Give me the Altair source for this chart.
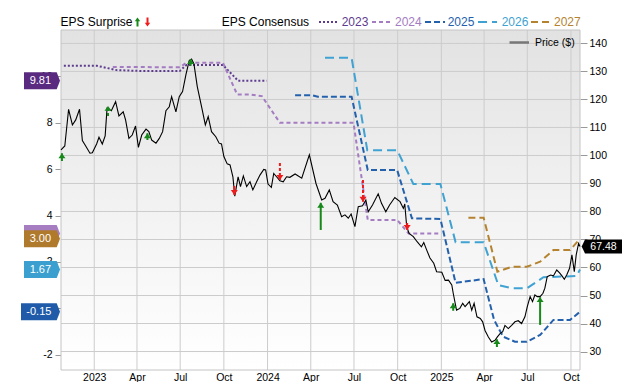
import altair as alt
import pandas as pd

FONT = "Liberation Sans"

# ---------------- data ----------------
price_dates = [
    "2022-10-23", "2022-10-31", "2022-11-08", "2022-11-16", "2022-11-23", "2022-12-01", "2022-12-07", "2022-12-14", "2022-12-23", "2022-12-28",
    "2023-01-06", "2023-01-11", "2023-01-18", "2023-01-24", "2023-01-28", "2023-02-06", "2023-02-15", "2023-02-22", "2023-03-03", "2023-03-08",
    "2023-03-15", "2023-03-22", "2023-03-29", "2023-04-04", "2023-04-11", "2023-04-20", "2023-04-26", "2023-05-02", "2023-05-11", "2023-05-18",
    "2023-05-25", "2023-06-01", "2023-06-08", "2023-06-13", "2023-06-22", "2023-06-29", "2023-07-06", "2023-07-13", "2023-07-20", "2023-07-25",
    "2023-07-30", "2023-08-06", "2023-08-15", "2023-08-23", "2023-08-29", "2023-09-05", "2023-09-14", "2023-09-21", "2023-09-26", "2023-10-01",
    "2023-10-08", "2023-10-14", "2023-10-20", "2023-10-24", "2023-10-31", "2023-11-05", "2023-11-11", "2023-11-18", "2023-11-25", "2023-12-01",
    "2023-12-09", "2023-12-16", "2023-12-24", "2023-12-28", "2024-01-02", "2024-01-09", "2024-01-14", "2024-01-20", "2024-01-27", "2024-02-03",
    "2024-02-10", "2024-02-17", "2024-02-28", "2024-03-13", "2024-03-29", "2024-04-12", "2024-04-24", "2024-05-01", "2024-05-10", "2024-05-18",
    "2024-05-27", "2024-06-05", "2024-06-12", "2024-06-19", "2024-06-25", "2024-07-03", "2024-07-10", "2024-07-19", "2024-07-26", "2024-07-31",
    "2024-08-09", "2024-08-21", "2024-08-28", "2024-09-06", "2024-09-14", "2024-09-25", "2024-10-06", "2024-10-13", "2024-10-16", "2024-10-20",
    "2024-10-25", "2024-11-03", "2024-11-11", "2024-11-20", "2024-11-25", "2024-12-01", "2024-12-08", "2024-12-16", "2024-12-22", "2025-01-02",
    "2025-01-09", "2025-01-16", "2025-01-23", "2025-01-26", "2025-02-02", "2025-02-09", "2025-02-15", "2025-02-20", "2025-02-25", "2025-03-01",
    "2025-03-06", "2025-03-11", "2025-03-17", "2025-03-24", "2025-03-29", "2025-04-03", "2025-04-10", "2025-04-17", "2025-04-24", "2025-04-29",
    "2025-05-05", "2025-05-10", "2025-05-15", "2025-05-22", "2025-05-29", "2025-06-05", "2025-06-12", "2025-06-19", "2025-06-26", "2025-07-01",
    "2025-07-07", "2025-07-12", "2025-07-17", "2025-07-22", "2025-07-28", "2025-08-03", "2025-08-07", "2025-08-12", "2025-08-19", "2025-08-25",
    "2025-09-01", "2025-09-07", "2025-09-12", "2025-09-17", "2025-09-22", "2025-09-28", "2025-10-03", "2025-10-08", "2025-10-12", "2025-10-17",
    "2025-10-20",
]
price_values = [
    102.0, 103.4, 116.5, 110.9, 112.7, 116.5, 105.3, 103.4, 100.8, 101.0,
    104.1, 106.5, 104.1, 107.0, 116.9, 116.0, 119.2, 114.1, 115.6, 112.7,
    106.1, 107.3, 110.5, 102.9, 107.3, 109.4, 108.5, 105.5, 104.4, 106.1,
    108.5, 116.0, 117.4, 121.0, 115.6, 121.0, 122.8, 128.8, 133.9, 134.4,
    132.7, 124.6, 117.4, 110.9, 113.9, 108.5, 106.7, 104.4, 104.1, 99.6,
    97.0, 96.6, 92.4, 85.5, 92.4, 88.9, 92.7, 88.9, 90.6, 87.7,
    90.6, 93.0, 95.0, 94.8, 89.8, 88.6, 93.6, 92.4, 91.0, 90.6,
    92.4, 92.2, 93.4, 91.9, 100.2, 90.0, 84.1, 84.7, 87.7, 83.5,
    82.3, 78.1, 78.8, 77.6, 79.1, 74.6, 81.7, 82.0, 84.1, 79.9,
    82.3, 86.3, 82.9, 79.9, 82.3, 85.0, 83.5, 81.1, 82.7, 74.6,
    72.2, 71.0, 69.2, 67.4, 68.9, 66.3, 63.4, 61.5, 58.5, 58.3,
    55.4, 55.5, 53.8, 50.8, 44.8, 45.4, 47.2, 46.0, 47.0, 47.8,
    44.8, 47.2, 42.4, 41.8, 40.6, 37.5, 35.2, 33.4, 34.0, 35.2,
    36.5, 37.0, 39.3, 38.2, 39.3, 40.6, 41.0, 40.0, 42.4, 46.0,
    49.6, 47.8, 50.2, 49.6, 49.6, 50.8, 52.6, 56.7, 57.3, 57.0,
    59.1, 58.1, 57.0, 55.8, 57.3, 59.7, 64.5, 58.5, 64.5, 68.6,
    67.48,
]
last_price = 67.48

consensus_years = ["2023", "2024", "2025", "2026", "2027"]
eps_2023_dates = ["2022-10-29", "2023-01-06", "2023-02-17", "2023-04-13", "2023-06-30", "2023-07-14",
                  "2023-09-29", "2023-10-31", "2023-12-30"]
eps_2023_values = [10.46, 10.46, 10.27, 10.23, 10.23, 10.49, 10.49, 9.81, 9.81]
eps_2024_dates = ["2023-02-09", "2023-06-30", "2023-07-14", "2023-09-29", "2023-10-29", "2023-11-25",
                  "2023-12-20", "2024-01-27", "2024-06-30", "2024-07-30", "2024-09-30", "2024-10-24", "2024-12-27"]
eps_2024_values = [10.41, 10.39, 10.59, 10.59, 9.22, 9.22, 9.15, 8.0, 8.0, 3.81, 3.81, 3.23, 3.23]
eps_2025_dates = ["2024-02-28", "2024-04-03", "2024-04-16", "2024-06-26", "2024-07-30", "2024-09-30",
                  "2024-10-31", "2024-12-30", "2025-01-31", "2025-03-31", "2025-04-22", "2025-05-11",
                  "2025-06-05", "2025-06-30", "2025-07-28", "2025-08-25", "2025-09-29", "2025-10-20"]
eps_2025_values = [9.19, 9.19, 9.12, 9.12, 5.96, 5.96, 3.88, 3.85, 1.10, 1.26, -0.50, -1.22,
                   -1.44, -1.44, -1.15, -0.50, -0.50, -0.15]
eps_2026_dates = ["2024-05-01", "2024-06-26", "2024-07-29", "2024-09-30", "2024-11-03", "2024-12-30",
                  "2025-01-31", "2025-03-31", "2025-05-01", "2025-06-01", "2025-06-30", "2025-08-04",
                  "2025-10-13", "2025-10-20"]
eps_2026_values = [10.80, 10.80, 6.82, 6.82, 5.36, 5.36, 2.85, 2.85, 1.00, 0.86, 0.86, 1.34, 1.39, 1.67]
eps_2027_dates = ["2025-02-27", "2025-03-31", "2025-04-29", "2025-05-29", "2025-06-30", "2025-07-28",
                  "2025-08-25", "2025-09-29", "2025-10-20"]
eps_2027_values = [3.91, 3.91, 1.58, 1.79, 1.79, 2.01, 2.51, 2.51, 3.00]
consensus_dates = [eps_2023_dates, eps_2024_dates, eps_2025_dates, eps_2026_dates, eps_2027_dates]
consensus_values = [eps_2023_values, eps_2024_values, eps_2025_values, eps_2026_values, eps_2027_values]

flag_years = ["2024", "2027", "2026", "2025", "2023"]
flag_values = [3.23, 3.00, 1.67, -0.15, 9.81]

arrow_dates = ["2022-10-25", "2023-01-30", "2023-04-23", "2023-07-23", "2023-10-23", "2024-01-27",
               "2024-04-22", "2024-07-20", "2024-10-21", "2025-01-26", "2025-04-28", "2025-07-28"]
arrow_dir = ["up", "up", "up", "up", "down", "down", "up", "down", "down", "up", "up", "up"]
arrow_tip = [100.8, 117.7, 107.9, 134.4, 85.9, 91.25, 83.1, 83.5, 73.4, 47.2, 34.4, 49.4]
arrow_tail = [98.0, 114.1, 105.5, 132.0, 89.1, 97.3, 73.4, 91.25, 75.9, 44.6, 31.6, 39.5]
arrow_solid = [False, False, False, False, True, False, True, False, False, False, False, True]

quarter_ticks = ["2023-01-01", "2023-04-01", "2023-07-01", "2023-10-01",
                 "2024-01-01", "2024-04-01", "2024-07-01", "2024-10-01",
                 "2025-01-01", "2025-04-01", "2025-07-01", "2025-10-01"]
price_ticks = [30, 40, 50, 60, 70, 80, 90, 100, 110, 120, 130, 140]
eps_ticks = [-2, 0, 2, 4, 6, 8, 10]

# ---------------- styles ----------------
LINE_COLORS = {"2023": "#5d3b8f", "2024": "#a47cc2", "2025": "#2461ad", "2026": "#3fa2d2", "2027": "#b5832f"}
FLAG_COLORS = {"2023": "#5a2a80", "2024": "#a77dc2", "2025": "#1f5ba8", "2026": "#3b9fcf", "2027": "#b07a2c"}
DASHES = {"2023": [2, 2], "2024": [4, 3], "2025": [6, 3], "2026": [9, 5], "2027": [7, 4]}
GREEN = "#16891a"
RED = "#ee1c1c"
GRID = "#cccccc"


def to_dt(s):
    return alt.DateTime(year=int(s[:4]), month=int(s[5:7]), date=int(s[8:10]))


X_SCALE = alt.Scale(domain=[alt.DateTime(year=2022, month=10, date=23),
                            alt.DateTime(year=2025, month=10, date=20)])
X_AXIS = alt.Axis(values=[to_dt(s) for s in quarter_ticks],
                  labelExpr="month(datum.value) == 0 ? timeFormat(datum.value, '%Y') : timeFormat(datum.value, '%b')",
                  grid=False, ticks=False, domain=False, labelPadding=2, labelFontSize=10.5,
                  labelColor="#000000", title=None, labelFlush=False, labelOverlap=False)
EPS_SCALE = alt.Scale(domain=[-2.66, 12.0], nice=False, zero=False)
EPS_AXIS = alt.Axis(orient="left", values=eps_ticks, grid=False, domain=False, tickSize=6,
                    tickColor="#999999", labelFontSize=10.5, labelColor="#000000", labelPadding=3,
                    title=None, labelOverlap=False, labelExpr="toString(datum.value)")
PRICE_SCALE = alt.Scale(domain=[23.4, 144.8], nice=False, zero=False)
PRICE_AXIS = alt.Axis(orient="right", values=price_ticks, grid=False, domain=False, tickSize=7,
                      tickColor="#999999", labelFontSize=10.5, labelColor="#000000", labelPadding=2,
                      title=None, labelOverlap=False)


def xenc(field):
    return alt.X(f"{field}:T", scale=X_SCALE, axis=X_AXIS)


def yeps(field):
    return alt.Y(f"{field}:Q", scale=EPS_SCALE, axis=EPS_AXIS)


def yprice(field):
    return alt.Y(f"{field}:Q", scale=PRICE_SCALE, axis=PRICE_AXIS)


ONE = pd.DataFrame({"k": [0]})


def left_flag_path(half_w, half_h=8.5, tip=3.3):
    br = 1 - tip / half_w
    h = half_h / half_w
    return f"M-1,{-h:.3f}L{br:.3f},{-h:.3f}L1,0L{br:.3f},{h:.3f}L-1,{h:.3f}Z"


def right_flag_path(half_w, half_h=7.0, tip=3.3):
    bl = -1 + tip / half_w
    h = half_h / half_w
    return f"M-1,0L{bl:.3f},{-h:.3f}L1,{-h:.3f}L1,{h:.3f}L{bl:.3f},{h:.3f}Z"


UP_PATH = "M0,0L1,1.4L-1,1.4Z"
DOWN_PATH = "M0,0L1,-1.4L-1,-1.4Z"

# ---------------- background group ----------------
bg_rect = alt.Chart(ONE).mark_rect(
    color=alt.LinearGradient(gradient="linear",
                             stops=[alt.GradientStop(color="#e2e2e2", offset=0),
                                    alt.GradientStop(color="#f3f3f3", offset=0.55),
                                    alt.GradientStop(color="#ffffff", offset=1)],
                             x1=0, x2=0, y1=0, y2=1)
).encode(x=alt.value(0), x2=alt.value("width"), y=alt.value(0), y2=alt.value("height"))

hgrid = alt.Chart(pd.DataFrame({"p": price_ticks})).mark_rule(color=GRID, strokeWidth=1).encode(
    y=alt.Y("p:Q", scale=PRICE_SCALE, axis=None))
vgrid = alt.Chart(pd.DataFrame({"d": quarter_ticks})).mark_rule(color=GRID, strokeWidth=1).encode(
    x=xenc("d"))
border = alt.Chart(ONE).mark_rect(fillOpacity=0, stroke="#c4c4c4", strokeWidth=1).encode(
    x=alt.value(0), x2=alt.value("width"), y=alt.value(0), y2=alt.value("height"))
bg_group = alt.layer(bg_rect, hgrid, vgrid, border)

# ---------------- EPS group ----------------
eps_layers = []
for yr, dts, vals in zip(consensus_years, consensus_dates, consensus_values):
    df = pd.DataFrame({"date": dts, "eps": vals})
    eps_layers.append(alt.Chart(df).mark_line(color=LINE_COLORS[yr], strokeDash=DASHES[yr],
                                              strokeWidth=2).encode(x=xenc("date"), y=yeps("eps")))

for yr, v in zip(flag_years, flag_values):
    left = -40 if v < 0 else -37
    half = (-1 - left) / 2
    cx = (left - 1) / 2
    tx = (left - 1 - 3.3) / 2
    df = pd.DataFrame({"eps": [v], "label": [f"{v:.2f}"]})
    eps_layers.append(alt.Chart(df).mark_point(shape=left_flag_path(half), size=(2 * half) ** 2,
                                               filled=True, opacity=1, color=FLAG_COLORS[yr]).encode(
        x=alt.value(cx), y=yeps("eps")))
    if yr != "2024":
        eps_layers.append(alt.Chart(df).mark_text(color="white", fontSize=11, align="center",
                                                  baseline="middle").encode(
            x=alt.value(tx), y=yeps("eps"), text="label:N"))
eps_group = alt.layer(*eps_layers)

# ---------------- price group ----------------
price_df = pd.DataFrame({"date": price_dates, "price": price_values})
price_line = alt.Chart(price_df).mark_line(color="#000000", strokeWidth=1.1).encode(
    x=xenc("date"), y=yprice("price"))

arrow_df = pd.DataFrame({"date": arrow_dates, "dir": arrow_dir, "tip": arrow_tip,
                         "tail": arrow_tail, "solid": arrow_solid})
ARROW_COLOR = alt.Color("dir:N", scale=alt.Scale(domain=["up", "down"], range=[GREEN, RED]), legend=None)
stems_solid = alt.Chart(arrow_df[arrow_df.solid]).mark_rule(strokeWidth=2).encode(
    x=xenc("date"), y=yprice("tail"), y2="tip:Q", color=ARROW_COLOR)
stems_dash = alt.Chart(arrow_df[~arrow_df.solid]).mark_rule(strokeWidth=2, strokeDash=[3, 2]).encode(
    x=xenc("date"), y=yprice("tail"), y2="tip:Q", color=ARROW_COLOR)
heads_up = alt.Chart(arrow_df[arrow_df.dir == "up"]).mark_point(
    shape=UP_PATH, size=49, filled=True, opacity=1, color=GREEN).encode(x=xenc("date"), y=yprice("tip"))
heads_down = alt.Chart(arrow_df[arrow_df.dir == "down"]).mark_point(
    shape=DOWN_PATH, size=49, filled=True, opacity=1, color=RED).encode(x=xenc("date"), y=yprice("tip"))

last_df = pd.DataFrame({"price": [last_price], "label": [f"{last_price:.2f}"]})
rflag = alt.Chart(last_df).mark_point(shape=right_flag_path(20.15), size=40.3 ** 2, filled=True,
                                      opacity=1, color="#000000").encode(
    x=alt.value(540.85), y=yprice("price"))
rflag_text = alt.Chart(last_df).mark_text(color="white", fontSize=10.5, align="center",
                                          baseline="middle").encode(
    x=alt.value(542.5), y=yprice("price"), text="label:N")

# legend items (decorations)
legend_layers = [
    alt.Chart(ONE).mark_rule(color="#777777", strokeWidth=2.5).encode(
        x=alt.value(448.5), x2=alt.value(468), y=alt.value(12.5)),
    alt.Chart(ONE).mark_text(text="Price ($)", fontSize=10.5, align="left", baseline="middle",
                             color="#000000").encode(x=alt.value(474), y=alt.value(12.5)),
    alt.Chart(ONE).mark_text(text="EPS Surprise", fontSize=12, align="left", baseline="alphabetic",
                             color="#000000").encode(x=alt.value(-0.5), y=alt.value(-3.7)),
    alt.Chart(ONE).mark_rule(color=GREEN, strokeWidth=2).encode(
        x=alt.value(76.5), y=alt.value(-10), y2=alt.value(-3.5)),
    alt.Chart(ONE).mark_point(shape=UP_PATH, size=30, filled=True, opacity=1, color=GREEN).encode(
        x=alt.value(76.5), y=alt.value(-12.5)),
    alt.Chart(ONE).mark_rule(color=RED, strokeWidth=2).encode(
        x=alt.value(86.5), y=alt.value(-12.5), y2=alt.value(-6)),
    alt.Chart(ONE).mark_point(shape=DOWN_PATH, size=30, filled=True, opacity=1, color=RED).encode(
        x=alt.value(86.5), y=alt.value(-3.5)),
    alt.Chart(ONE).mark_text(text="EPS Consensus", fontSize=12, align="left", baseline="alphabetic",
                             color="#000000").encode(x=alt.value(160.7), y=alt.value(-3.7)),
]
sample_x = {"2023": (258, 276), "2024": (311, 331), "2025": (364, 384), "2026": (417, 436), "2027": (470, 490)}
text_x = {"2023": 280.7, "2024": 334, "2025": 386.7, "2026": 440.7, "2027": 493}
for yr in consensus_years:
    a, b = sample_x[yr]
    legend_layers.append(alt.Chart(ONE).mark_rule(color=LINE_COLORS[yr], strokeWidth=2,
                                                  strokeDash=DASHES[yr]).encode(
        x=alt.value(a), x2=alt.value(b), y=alt.value(-8)))
    legend_layers.append(alt.Chart(ONE).mark_text(text=yr, fontSize=12, align="left",
                                                  baseline="alphabetic", color=LINE_COLORS[yr]).encode(
        x=alt.value(text_x[yr]), y=alt.value(-3.7)))

price_group = alt.layer(price_line, stems_solid, stems_dash, heads_up, heads_down, rflag, rflag_text,
                        *legend_layers)

chart = alt.layer(bg_group, eps_group, price_group).resolve_scale(y="independent").properties(
    width=519, height=340,
    padding={"left": 53, "top": 22, "right": 52, "bottom": 20},
    autosize=alt.AutoSizeParams(type="none"),
).configure_view(strokeOpacity=0).configure_axis(labelFont=FONT).configure_text(font=FONT)

chart.save("out.html", embed_options={"renderer": "svg", "actions": False})
